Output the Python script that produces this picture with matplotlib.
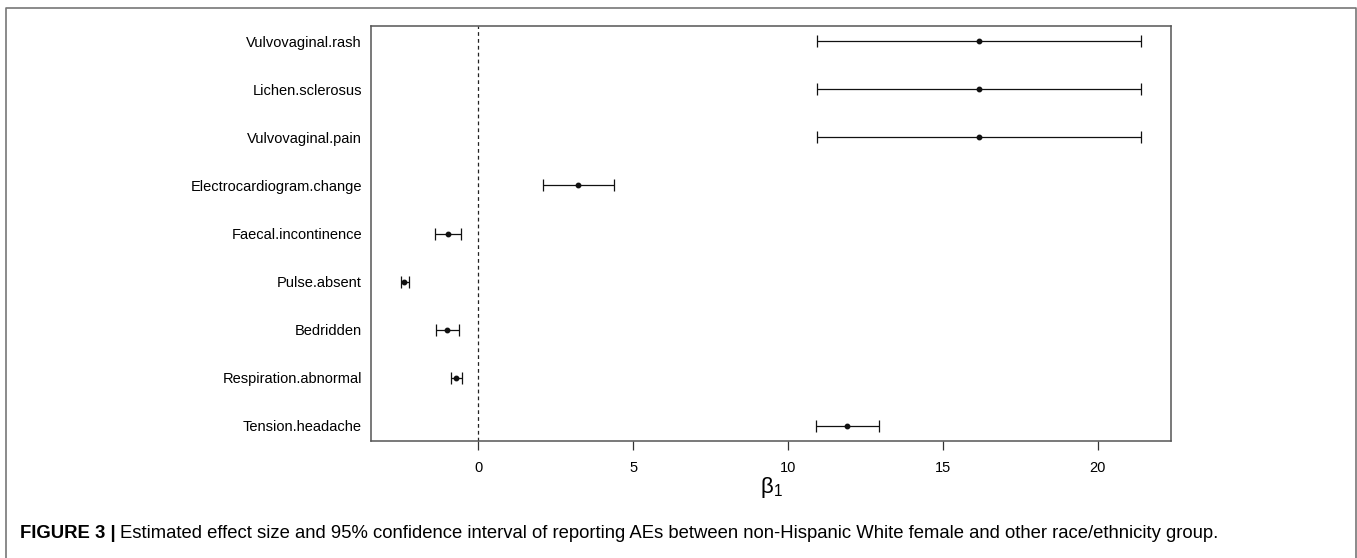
import matplotlib
matplotlib.use("Agg")
import matplotlib.pyplot as plt
from matplotlib import font_manager
from matplotlib.lines import Line2D

# AE terms, bottom to top as plotted
labels = ["Tension.headache", "Respiration.abnormal", "Bedridden", "Pulse.absent",
          "Faecal.incontinence", "Electrocardiogram.change", "Vulvovaginal.pain",
          "Lichen.sclerosus", "Vulvovaginal.rash"]
estimate = [11.92, -0.71, -1.02, -2.39, -0.98, 3.22, 16.17, 16.17, 16.17]
ci_low = [10.89, -0.89, -1.38, -2.51, -1.41, 2.07, 10.94, 10.94, 10.94]
ci_high = [12.95, -0.54, -0.63, -2.24, -0.56, 4.37, 21.40, 21.40, 21.40]
xticks = [0, 5, 10, 15, 20]

caption_bold = "FIGURE 3 |"
caption_text = ("Estimated effect size and 95% confidence interval of reporting AEs "
                "between non-Hispanic White female and other race/ethnicity group.")

names = {f.name for f in font_manager.fontManager.ttflist}
narrow = "Liberation Sans Narrow" if "Liberation Sans Narrow" in names else "Liberation Sans"
plt.rcParams["font.family"] = ["Liberation Sans", "DejaVu Sans"]
plt.rcParams["mathtext.default"] = "regular"

W, H = 1357, 558
fig = plt.figure(figsize=(W / 100, H / 100), dpi=100)

# plot box in pixels: left 371, right 1171, top 26, bottom 441
ax = fig.add_axes([371 / W, (H - 441) / H, 800 / W, 415 / H])

ypos = list(range(1, len(labels) + 1))
xerr = [[e - lo for e, lo in zip(estimate, ci_low)],
        [hi - e for e, hi in zip(estimate, ci_high)]]
ax.errorbar(estimate, ypos, xerr=xerr, fmt="o", color="#111111", ms=3.2,
            elinewidth=0.9, capsize=4, capthick=0.9)
ax.axvline(0, color="#222222", lw=0.9, ls=(0, (3, 2.5)))

ax.set_xlim(-3.47, 22.37)
ax.set_ylim(0.68, 9.32)
ax.set_yticks(ypos)
ax.set_yticklabels(labels, fontsize=10.5)
ax.set_xticks(xticks)
ax.set_xticklabels([str(t) for t in xticks], fontsize=10.5)
ax.tick_params(axis="y", length=0, pad=6.5)
ax.tick_params(axis="x", length=6.5, width=0.9, pad=8, color="#333333")
for s in ax.spines.values():
    s.set_color("#555555")
    s.set_linewidth(1.1)

fig.text(771 / W, 1 - 487 / H, r"$\beta_1$", fontsize=16, ha="center", va="center")

# outer figure frame (open at the bottom)
frame = Line2D([6 / W, 6 / W, 1356 / W, 1356 / W], [0, 1 - 8 / H, 1 - 8 / H, 0],
               transform=fig.transFigure, color="#777777", lw=1.2)
fig.add_artist(frame)

t = fig.text(20 / W, 1 - 534 / H, caption_bold, fontsize=13.3, fontweight="bold",
             family=narrow, va="center", ha="left")
fig.canvas.draw()
bb = t.get_window_extent()
fig.text((bb.x1 + 4) / W, 1 - 534 / H, caption_text, fontsize=13.3,
         family=narrow, va="center", ha="left")

fig.savefig("out.png", dpi=100)
